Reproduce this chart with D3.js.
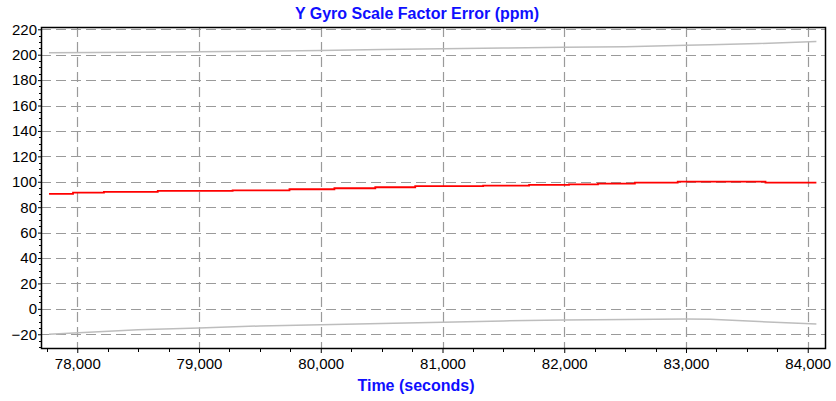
<!DOCTYPE html>
<html><head><meta charset="utf-8">
<script src="https://cdn.jsdelivr.net/npm/d3@7"></script>
<style>
body{margin:0;background:#fff;}
svg{display:block;font-family:"Liberation Sans",Arial,sans-serif;}
</style></head>
<body><svg id="c" width="836" height="401"></svg>
<script>
// Data
const title = "Y Gyro Scale Factor Error (ppm)";
const xLabel = "Time (seconds)";
const xTicks = [78000, 79000, 80000, 81000, 82000, 83000, 84000];
const yTicks = [-20, 0, 20, 40, 60, 80, 100, 120, 140, 160, 180, 200, 220];
const estTime = [77768, 77965, 78219, 78661, 79276, 79743, 80112, 80448, 80776, 81334, 81711, 82039, 82277, 82580, 82932, 83653, 84071];
const estValue = [90.4, 91.4, 92.0, 92.8, 93.3, 94.1, 94.9, 95.7, 96.5, 97.0, 97.5, 98.0, 98.5, 99.3, 100.1, 99.3, 99.3];
const boundTime = [77768, 78500, 79000, 79500, 80000, 80500, 81000, 81500, 82000, 82500, 83000, 83200, 83600, 84071];
const upperBound = [201.5, 202.0, 202.3, 202.8, 203.3, 204.0, 204.6, 205.2, 205.8, 206.3, 207.4, 207.9, 208.8, 210.3];
const lowerBound = [-20.0, -16.5, -15.0, -13.5, -12.5, -11.5, -10.5, -9.5, -8.8, -8.3, -8.0, -8.2, -10.0, -12.0];

const svg = d3.select("#c");
const L = 41, R = 826, T = 27, B = 349;
const x = d3.scaleLinear().domain([77702, 84150]).range([L, R]);
const y = d3.scaleLinear().domain([-31.6, 221.8]).range([B, T]);

// grid
const grid = svg.append("g").attr("stroke", "#9a9a9a").attr("stroke-width", 1.2).attr("stroke-dasharray", "10,5");
grid.selectAll("line.h").data(yTicks).join("line")
  .attr("x1", L).attr("x2", R).attr("y1", d => Math.round(y(d)) + 0.5).attr("y2", d => Math.round(y(d)) + 0.5);
grid.selectAll("line.v").data(xTicks).join("line")
  .attr("y1", T).attr("y2", B).attr("x1", d => Math.round(x(d)) + 0.5).attr("x2", d => Math.round(x(d)) + 0.5);

// bounds
const bLine = (vals) => d3.line().x((d, i) => x(boundTime[i])).y((d) => y(d))(vals);
svg.append("path").attr("d", bLine(upperBound)).attr("fill", "none").attr("stroke", "#bdbdbd").attr("stroke-width", 1.5);
svg.append("path").attr("d", bLine(lowerBound)).attr("fill", "none").attr("stroke", "#bdbdbd").attr("stroke-width", 1.5);

// estimate (step)
const est = estTime.map((t, i) => [t, estValue[i]]);
svg.append("path").attr("d", d3.line().x(d => x(d[0])).y(d => y(d[1])).curve(d3.curveStepAfter)(est))
  .attr("fill", "none").attr("stroke", "#ff0000").attr("stroke-width", 1.8);

// axes
const xMinor = d3.range(77750, 84150, 250).filter(v => !xTicks.includes(v));
const yMinor = d3.range(-30, 222, 5).filter(v => !yTicks.includes(v));
const xa = svg.append("g").attr("transform", `translate(0,${B})`)
  .call(d3.axisBottom(x).tickValues(xTicks).tickFormat(d3.format(",")).tickSize(4).tickPadding(5).tickSizeOuter(0));
xa.select(".domain").remove();
xa.selectAll("text").attr("font-size", 15).attr("fill", "#000").attr("font-family", "Liberation Sans, Arial, sans-serif");
xa.selectAll("line").attr("stroke", "#000");
svg.append("g").selectAll("line").data(xMinor).join("line")
  .attr("x1", d => Math.round(x(d)) + 0.5).attr("x2", d => Math.round(x(d)) + 0.5).attr("y1", B).attr("y2", B + 3).attr("stroke", "#000");

const ya = svg.append("g").attr("transform", `translate(${L},0)`)
  .call(d3.axisLeft(y).tickValues(yTicks).tickSize(3).tickPadding(1).tickSizeOuter(0));
ya.select(".domain").remove();
ya.selectAll("text").attr("font-size", 15).attr("fill", "#000").attr("font-family", "Liberation Sans, Arial, sans-serif");
ya.selectAll("line").attr("stroke", "#000");
svg.append("g").selectAll("line").data(yMinor).join("line")
  .attr("y1", d => Math.round(y(d)) + 0.5).attr("y2", d => Math.round(y(d)) + 0.5).attr("x1", L - 2).attr("x2", L).attr("stroke", "#000");

// frame
svg.append("rect").attr("x", L + 0.5).attr("y", T + 0.5).attr("width", R - L - 1).attr("height", B - T - 1)
  .attr("fill", "none").attr("stroke", "#000").attr("stroke-width", 1.5);

// titles
svg.append("text").attr("x", 417).attr("y", 19).attr("text-anchor", "middle")
  .attr("font-size", 16).attr("font-weight", "bold").attr("fill", "#0f0fff").text(title);
svg.append("text").attr("x", 416).attr("y", 391).attr("text-anchor", "middle")
  .attr("font-size", 16).attr("font-weight", "bold").attr("fill", "#0f0fff").text(xLabel);
</script></body></html>
